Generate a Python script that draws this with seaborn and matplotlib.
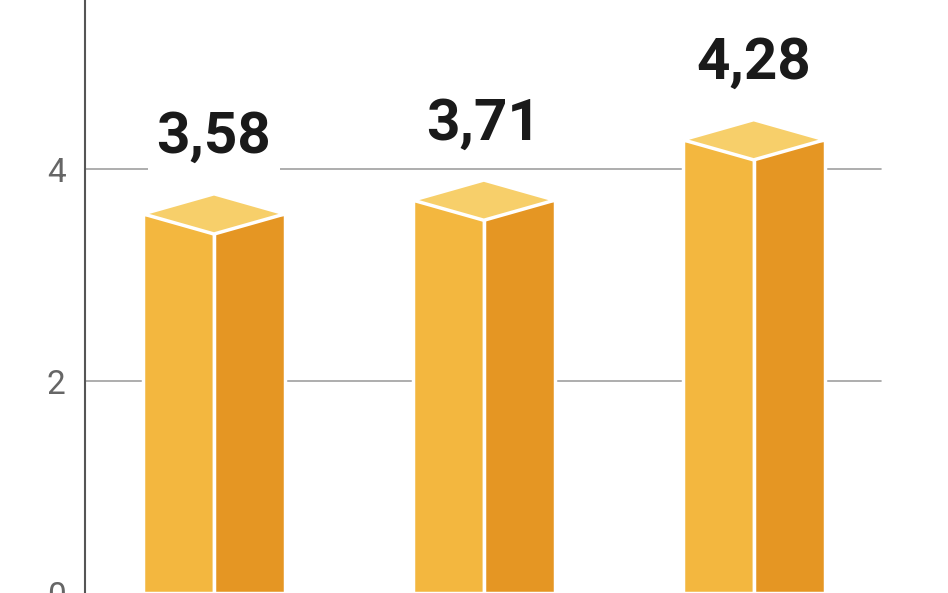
import pandas as pd
import numpy as np
import matplotlib
matplotlib.use('Agg')
import matplotlib.pyplot as plt
import seaborn as sns

categories = ['A', 'B', 'C']
values = [3.58, 3.71, 4.28]
labels = ['3,58', '3,71', '4,28']

df = pd.DataFrame({
    'cat': categories * 2,
    'value': values * 2,
    'face': ['left'] * 3 + ['right'] * 3,
})

sns.set_style('white')
plt.rcParams['font.family'] = ['Roboto', 'DejaVu Sans']
fig = plt.figure(figsize=(9.48, 5.93), dpi=100)
ax = fig.add_axes([0, 0, 1, 1])

width = 0.526
sns.barplot(data=df, x='cat', y='value', hue='face', dodge=True, width=width, gap=0,
            palette=['#F3B73F', '#E59623'], saturation=1, edgecolor='white', linewidth=2.5,
            legend=False, ax=ax, zorder=2)

# top faces of the pseudo-3D bars
dy = 0.19
for i, v in enumerate(values):
    xs = [i - width / 2, i, i + width / 2, i]
    ys = [v, v - dy, v, v + dy]
    ax.fill(xs, ys, color='#F7CF6A', edgecolor='white', linewidth=2.5, zorder=3)
    ax.text(i, v + 0.72, labels[i], ha='center', va='center', fontsize=42,
            fontweight='bold', color='#1a1a1a', zorder=4,
            bbox=dict(facecolor='white', edgecolor='none', pad=6))

for y in [2, 4]:
    ax.plot([-0.478, 2.47], [y, y], color='#a0a0a0', linewidth=1.2, zorder=1)

ax.set_xlim(-0.793, 2.72)
ax.set_ylim(0, 5.6)
ax.set_xticks([])
ax.set_yticks([0, 2, 4])
ax.tick_params(axis='y', length=0, pad=14, labelsize=24, labelcolor='#666666')
for lab in ax.get_yticklabels():
    lab.set_fontweight('light')
for s in ['top', 'right', 'bottom']:
    ax.spines[s].set_visible(False)
ax.spines['left'].set_position(('data', -0.478))
ax.spines['left'].set_color('#555555')
ax.spines['left'].set_linewidth(1.5)
ax.set_xlabel('')
ax.set_ylabel('')
fig.savefig('out.png', dpi=100)
